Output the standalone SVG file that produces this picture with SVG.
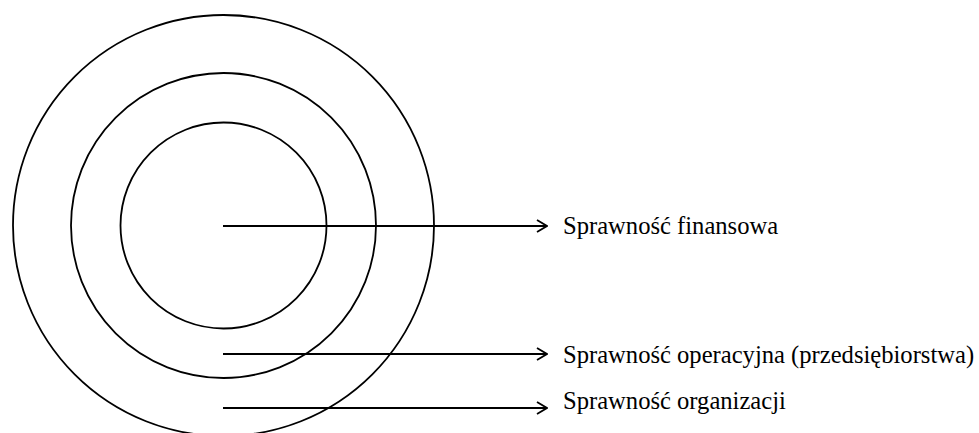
<svg xmlns="http://www.w3.org/2000/svg" width="979" height="433" viewBox="0 0 979 433">
<style>
.ring{fill:none;stroke:#000;stroke-width:1.8}
.conn{stroke:#000;stroke-width:1.8;fill:none}
.lbl{font-family:"Liberation Serif","Times New Roman",serif;font-size:24.6px;fill:#000}
</style>
<defs>
<marker id="arr" viewBox="0 0 12 14" refX="11" refY="7" markerWidth="12" markerHeight="14" markerUnits="userSpaceOnUse" orient="auto">
<path d="M1,1 L11,7 L1,13" fill="none" stroke="#000" stroke-width="1.8"/>
</marker>
</defs>
<rect width="979" height="433" fill="#fff"/>
<g id="outer"><circle class="ring" cx="223.5" cy="225.5" r="210.5"/></g>
<g id="middle"><circle class="ring" cx="223.5" cy="225.5" r="152.5"/></g>
<g id="inner"><circle class="ring" cx="223.5" cy="225.5" r="103"/></g>
<g id="connectors">
<line class="conn" x1="223" y1="226" x2="547" y2="226" marker-end="url(#arr)"/>
<line class="conn" x1="223" y1="354" x2="547" y2="354" marker-end="url(#arr)"/>
<line class="conn" x1="223" y1="408" x2="547" y2="408" marker-end="url(#arr)"/>
</g>
<g id="label-finansowa"><text class="lbl" x="563" y="234">Sprawność finansowa</text></g>
<g id="label-operacyjna"><text class="lbl" x="563" y="363">Sprawność operacyjna (przedsiębiorstwa)</text></g>
<g id="label-organizacji"><text class="lbl" x="563" y="409">Sprawność organizacji</text></g>
</svg>
